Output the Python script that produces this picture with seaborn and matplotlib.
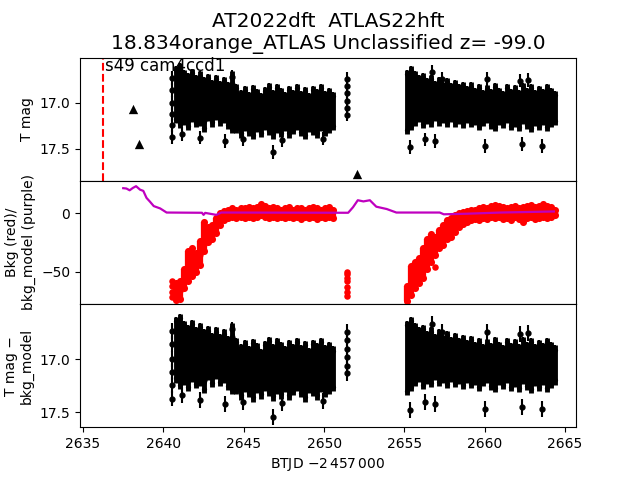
"""
Light curve panel: T mag, background, and background-subtracted T mag
"""

import numpy as np
import matplotlib
matplotlib.use("Agg")
import matplotlib.pyplot as plt
import seaborn as sns

# ─────────────────────────────────────────────
#  DATA
# ─────────────────────────────────────────────

# time grids of the two orbits (BTJD - 2457000), 0.25 d bins
t_orb1 = 2640.80 + 0.25 * np.arange(40)
t_orb2 = 2655.15 + 0.25 * np.arange(38)

# bright / faint envelope of the T mag scatter in each bin
mag1_bright = [16.60, 16.57, 16.64, 16.68, 16.63, 16.70, 16.66, 16.72, 16.69, 16.75,
               16.70, 16.76, 16.72, 16.78, 16.66, 16.80, 16.86, 16.82, 16.88, 16.81,
               16.85, 16.90, 16.83, 16.79, 16.86, 16.80, 16.84, 16.88, 16.82, 16.86,
               16.80, 16.87, 16.83, 16.89, 16.82, 16.85, 16.80, 16.87, 16.84, 16.88]
mag1_faint = [17.22, 17.28, 17.24, 17.30, 17.21, 17.27, 17.25, 17.32, 17.20, 17.26,
              17.19, 17.25, 17.22, 17.29, 17.33, 17.33, 17.38, 17.31, 17.36, 17.40,
              17.32, 17.37, 17.30, 17.35, 17.39, 17.33, 17.37, 17.31, 17.38, 17.34,
              17.30, 17.36, 17.40, 17.32, 17.35, 17.38, 17.31, 17.36, 17.33, 17.30]
mag2_bright = [16.64, 16.60, 16.66, 16.70, 16.68, 16.73, 16.70, 16.76, 16.72, 16.77,
               16.73, 16.79, 16.75, 16.80, 16.77, 16.82, 16.78, 16.84, 16.80, 16.86,
               16.81, 16.85, 16.79, 16.84, 16.87, 16.80, 16.85, 16.81, 16.86, 16.79,
               16.84, 16.80, 16.86, 16.82, 16.85, 16.80, 16.84, 16.87]
mag2_faint = [17.34, 17.30, 17.25, 17.21, 17.28, 17.23, 17.26, 17.20, 17.25, 17.22,
              17.27, 17.21, 17.26, 17.23, 17.28, 17.22, 17.27, 17.24, 17.30, 17.25,
              17.22, 17.29, 17.31, 17.24, 17.28, 17.22, 17.30, 17.26, 17.31, 17.23,
              17.29, 17.32, 17.25, 17.30, 17.24, 17.31, 17.27, 17.24]

# isolated points (with error bars) outside the main scatter
pts_t = [2640.55, 2640.55, 2640.55, 2640.55, 2640.55, 2640.55,
         2641.15, 2642.28, 2643.84, 2644.25, 2644.98, 2646.84, 2647.36, 2649.93,
         2651.45, 2651.45, 2651.45, 2651.45, 2651.45, 2651.45,
         2655.35, 2656.28, 2656.70, 2656.90, 2657.31, 2660.01, 2660.12,
         2662.19, 2662.29, 2662.71, 2663.54]
pts_mag = [16.73, 16.86, 17.00, 17.12, 17.24, 17.37,
           17.34, 17.38, 17.42, 16.72, 17.40, 17.54, 17.41, 17.39,
           16.74, 16.82, 16.90, 16.98, 17.06, 17.13,
           17.48, 17.40, 16.67, 17.42, 16.74, 17.47, 16.74,
           16.76, 17.45, 16.75, 17.47]
pts_err = 0.075

# upper limits (triangles)
lim_t = [2638.13, 2638.50, 2652.07]
lim_mag = [17.07, 17.45, 17.78]

# background flux: low / high envelope per bin
bkg1_low = [-74, -73, -64, -58, -54, -50, -44, -32, -25, -22,
            -17, -10, -6, -4, -3, -4, -3, -4, -3, -4,
            -3, -2, -3, -4, -3, -4, -3, -4, -3, -4,
            -3, -5, -3, -4, -3, -5, -3, -4, -3, -4]
bkg1_high = [-60, -58, -48, -32, -30, -34, -24, -8, -12, -10,
             -4, 0, 2, 3, 4, 3, 4, 4, 5, 4,
             5, 8, 6, 4, 5, 4, 3, 4, 5, 3,
             4, 4, 3, 4, 5, 4, 3, 4, 5, 3]
bkg2_low = [-75, -70, -64, -60, -55, -48, -42, -36, -30, -27,
            -22, -20, -16, -12, -9, -8, -6, -5, -6, -4,
            -5, -3, -4, -3, -5, -4, -6, -3, -5, -8,
            -4, -3, -5, -4, -3, -4, -3, -2]
bkg2_high = [-62, -45, -42, -38, -30, -22, -18, -20, -14, -10,
             -6, -4, -2, 0, 1, 2, 3, 3, 4, 5,
             4, 6, 7, 6, 5, 4, 5, 6, 4, 5,
             6, 7, 5, 6, 8, 6, 5, 3]
bkg_pts_t = [2640.55, 2640.55, 2640.55, 2640.55,
             2651.45, 2651.45, 2651.45, 2651.45, 2651.45, 2651.45, 2651.45,
             2656.90]
bkg_pts = [-72, -67, -62, -58,
           -50, -52, -55, -58, -63, -67, -71,
           -46]

# background model (purple line)
model_t = [2637.5, 2637.7, 2637.9, 2638.1, 2638.3, 2638.55, 2638.75, 2638.95,
           2639.15, 2639.4, 2639.8, 2640.2, 2642.4, 2642.5, 2642.6, 2643.3,
           2643.6, 2651.5, 2651.8, 2652.1, 2652.45, 2652.85, 2653.25, 2653.9,
           2654.5, 2657.2, 2657.45, 2658.9, 2661.0, 2664.3]
model_v = [21.3, 21.0, 19.5, 21.5, 23.0, 20.0, 19.0, 13.0,
           10.0, 6.0, 4.0, 0.5, 0.3, -1.5, 0.2, -1.5,
           0.5, 0.3, 5.0, 11.0, 10.0, 11.0, 5.5, 3.5,
           0.5, 0.5, -1.0, -0.5, 0.5, 1.4]

sector_start = 2636.245


# ─────────────────────────────────────────────
#  HELPERS
# ─────────────────────────────────────────────

def draw_scatter_band(ax, t, low, high, color, lw, size, err=0.0):
    """Dense cadence drawn as filled columns, edge dots (with error bars)
    inset so that the drawn envelope matches low..high."""
    low = np.asarray(low, float)
    high = np.asarray(high, float)
    core_lo = np.maximum(low, np.minimum(low, high) + err)
    core_hi = np.minimum(high, np.maximum(low, high) - err)
    ax.fill_between(t, core_lo, core_hi, color=color, lw=0, zorder=1)
    ax.vlines(t, low, high, color=color, lw=lw, zorder=2)
    for edge in (low + err, high - err):
        if err > 0:
            ax.errorbar(t, edge, yerr=err, fmt="none", ecolor=color,
                        elinewidth=1.5, capsize=0, zorder=2)
        sns.scatterplot(x=t, y=edge, color=color, s=size, linewidth=0,
                        ax=ax, zorder=3)


def draw_lightcurve(ax, err):
    draw_scatter_band(ax, t_orb1, mag1_bright, mag1_faint, "k", 3.5, 14, err)
    draw_scatter_band(ax, t_orb2, mag2_bright, mag2_faint, "k", 3.5, 14, err)
    ax.errorbar(pts_t, pts_mag, yerr=pts_err, fmt="o", color="k",
                ms=3.5, elinewidth=1.5, capsize=0, zorder=3)


# ─────────────────────────────────────────────
#  FIGURE
# ─────────────────────────────────────────────

fig, axes = plt.subplots(3, 1, sharex=True, figsize=(6.4, 4.8), dpi=100)
fig.subplots_adjust(hspace=0)

# top: T mag
ax = axes[0]
draw_lightcurve(ax, 0.045)
sns.scatterplot(x=lim_t, y=lim_mag, marker="^", color="k", s=45,
                linewidth=0, ax=ax, zorder=3)
ax.axvline(sector_start, color="r", ls="--", lw=1.5)
ax.text(sector_start + 0.12, 16.50, "s49 cam4ccd1", va="top", ha="left", fontsize=12)
ax.set_ylim(17.85, 16.51)
ax.set_yticks([17.0, 17.5])
ax.set_ylabel("T mag")
ax.set_title("AT2022dft  ATLAS22hft\n18.834orange_ATLAS Unclassified z= -99.0",
             fontsize=14.5)

# middle: background
ax = axes[1]
draw_scatter_band(ax, t_orb1, bkg1_low, bkg1_high, "r", 4.5, 26)
draw_scatter_band(ax, t_orb2, bkg2_low, bkg2_high, "r", 4.5, 26)
sns.scatterplot(x=bkg_pts_t, y=bkg_pts, color="r", s=22, linewidth=0, ax=ax, zorder=3)
sns.lineplot(x=model_t, y=model_v, color="m", lw=1.6, sort=False,
             estimator=None, ax=ax, zorder=4)
ax.set_ylim(-77.6, 27.6)
ax.set_yticks([-50, 0])
ax.set_ylabel("Bkg (red)/\nbkg_model (purple)")

# bottom: T mag - bkg_model
ax = axes[2]
draw_lightcurve(ax, 0.04)
ax.set_ylim(17.64, 16.48)
ax.set_yticks([17.0, 17.5])
ax.set_ylabel("T mag \u2212\nbkg_model")
ax.set_xlabel(r"BTJD $-2\,457\,000$")

ax.set_xlim(2634.81, 2665.68)
ax.set_xticks(np.arange(2635, 2666, 5))
for a in axes[:2]:
    a.tick_params(axis="x", bottom=False)

plt.savefig("out.png", dpi=100)
plt.close()
